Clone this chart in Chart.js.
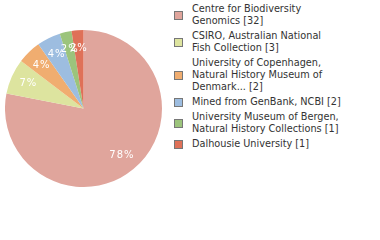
<!DOCTYPE html>
<html>
<head>
<meta charset="utf-8">
<script src="https://cdn.jsdelivr.net/npm/chart.js@4/dist/chart.umd.min.js"></script>
<style>
  html, body { margin: 0; padding: 0; background: #fff; }
  body { width: 380px; height: 240px; position: relative; overflow: hidden; }
  #pie-wrap { position: absolute; left: 5px; top: 30px; width: 157px; height: 157px; }
  #legend { position: absolute; left: 174px; top: 3px; font-family: "DejaVu Sans Condensed", "DejaVu Sans", sans-serif; font-size: 10.8px; line-height: 12px; color: #333; }
  .item { position: relative; padding-left: 18px; margin-bottom: 3px; }
  .box { position: absolute; left: 0; top: 50%; width: 7px; height: 7px; margin-top: -4px; border: 1px solid #777; }
</style>
</head>
<body>
<div id="pie-wrap"><canvas id="pie"></canvas></div>
<div id="legend"></div>
<script>
// ── Data ───────────────────────────────────────────────
const labels = [
  ['Centre for Biodiversity', 'Genomics'],
  ['CSIRO, Australian National', 'Fish Collection'],
  ['University of Copenhagen,', 'Natural History Museum of', 'Denmark...'],
  ['Mined from GenBank, NCBI'],
  ['University Museum of Bergen,', 'Natural History Collections'],
  ['Dalhousie University'],
];
const counts = [32, 3, 2, 2, 1, 1];
const colors = ['#e0a59c', '#dde49f', '#f0ad70', '#9dbde0', '#9cc47c', '#df7158'];

// ── Legend ─────────────────────────────────────────────
document.getElementById('legend').innerHTML = labels.map((lines, i) => {
  const text = lines.slice();
  text[text.length - 1] += ' [' + counts[i] + ']';
  return `<div class="item"><span class="box" style="background:${colors[i]}"></span>${text.join('<br>')}</div>`;
}).join('');

// ── Percent labels ─────────────────────────────────────
const total = counts.reduce((a, b) => a + b, 0);
const pctLabels = {
  id: 'pctLabels',
  afterDatasetsDraw(chart) {
    const ctx = chart.ctx;
    ctx.save();
    ctx.fillStyle = '#fff';
    ctx.font = '10px "DejaVu Sans", sans-serif';
    ctx.letterSpacing = '1px';
    ctx.textAlign = 'center';
    ctx.textBaseline = 'middle';
    chart.getDatasetMeta(0).data.forEach((arc, i) => {
      const mid = (arc.startAngle + arc.endAngle) / 2;
      const r = arc.outerRadius * 0.77;
      const pct = Math.floor(counts[i] / total * 100);
      ctx.fillText(pct + '%', arc.x + Math.cos(mid) * r, arc.y + Math.sin(mid) * r);
    });
    ctx.restore();
  }
};

new Chart(document.getElementById('pie'), {
  type: 'pie',
  data: {
    labels: labels.map(l => l.join(' ')),
    datasets: [{ data: counts, backgroundColor: colors, borderWidth: 0 }],
  },
  options: {
    responsive: true,
    maintainAspectRatio: false,
    animation: false,
    layout: { padding: 0 },
    plugins: { legend: { display: false }, tooltip: { enabled: false } },
  },
  plugins: [pctLabels],
});
</script>
</body>
</html>
